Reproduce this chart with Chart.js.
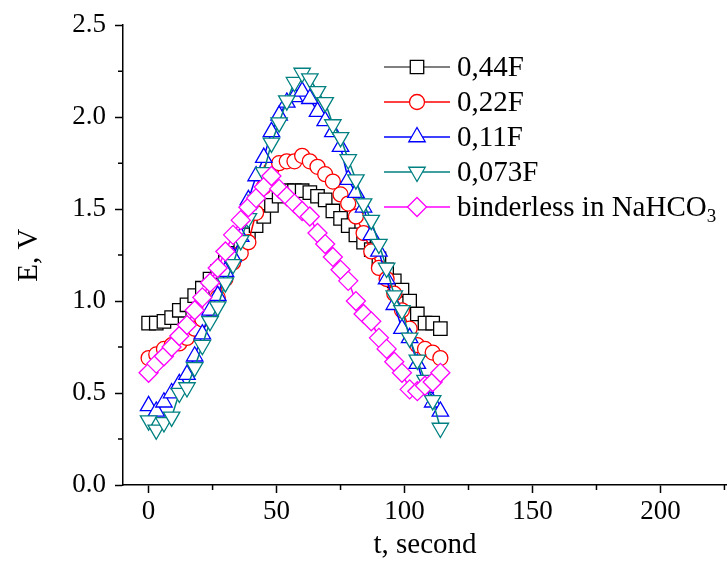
<!DOCTYPE html>
<html>
<head>
<meta charset="utf-8">
<script src="https://cdn.jsdelivr.net/npm/chart.js@4.4.0/dist/chart.umd.min.js"></script>
<style>
  html, body { margin: 0; padding: 0; background: #fff; }
  canvas { display: block; }
</style>
</head>
<body>
<canvas id="c" width="727" height="563"></canvas>
<script>
// ---- data ------------------------------------------------------------------
const TIME = [0, 3, 6, 9, 12, 15, 18, 21, 24, 27, 30, 33, 36, 39, 42, 45, 48, 51, 54, 57,
              60, 63, 66, 69, 72, 75, 78, 81, 84, 87, 90, 93, 96, 99, 102, 105, 108, 111, 114];

const E_044F = [0.88, 0.88, 0.89, 0.91, 0.95, 0.98, 1.03, 1.07, 1.12, 1.16, 1.21, 1.26, 1.31, 1.36,
                1.41, 1.46, 1.52, 1.57, 1.60, 1.60, 1.60, 1.59, 1.57, 1.55, 1.49, 1.45, 1.41, 1.36,
                1.32, 1.28, 1.23, 1.17, 1.11, 1.06, 1.00, 0.93, 0.88, 0.88, 0.85];
const E_022F = [0.69, 0.71, 0.74, 0.76, 0.77, 0.80, 0.85, 0.90, 0.96, 1.02, 1.12, 1.21, 1.26, 1.32,
                1.48, 1.62, 1.72, 1.75, 1.76, 1.76, 1.79, 1.76, 1.73, 1.69, 1.65, 1.58, 1.53, 1.46,
                1.37, 1.27, 1.18, 1.12, 1.04, 0.95, 0.85, 0.76, 0.74, 0.72, 0.69];
const E_011F = [0.43, 0.40, 0.45, 0.50, 0.55, 0.60, 0.70, 0.82, 0.95, 1.03, 1.16, 1.24, 1.35, 1.55,
                1.68, 1.78, 1.92, 2.01, 2.08, 2.11, 2.14, 2.10, 2.03, 1.98, 1.92, 1.84, 1.66, 1.59,
                1.51, 1.36, 1.27, 1.12, 0.98, 0.85, 0.80, 0.66, 0.53, 0.45, 0.40];
const E_0073F = [0.35, 0.30, 0.34, 0.37, 0.50, 0.53, 0.64, 0.76, 0.89, 0.97, 1.10, 1.20, 1.33, 1.45,
                 1.55, 1.70, 1.86, 1.97, 2.09, 2.19, 2.24, 2.21, 2.14, 2.08, 1.96, 1.89, 1.77, 1.66,
                 1.53, 1.44, 1.31, 1.18, 1.03, 0.95, 0.80, 0.68, 0.57, 0.46, 0.31];
const E_BINDERLESS = [0.61, 0.66, 0.70, 0.75, 0.81, 0.87, 0.95, 1.02, 1.10, 1.18, 1.27, 1.36, 1.44, 1.51,
                      1.56, 1.62, 1.68, 1.61, 1.57, 1.53, 1.49, 1.46, 1.37, 1.31, 1.24, 1.17, 1.11, 1.00,
                      0.93, 0.89, 0.80, 0.74, 0.67, 0.61, 0.52, 0.51, 0.54, 0.56, 0.61];

const LABELS = ['0,44F', '0,22F', '0,11F', '0,073F', 'binderless in NaHCO'];
const X_TICKS = [0, 50, 100, 150, 200];
const Y_TICKS = [0, 0.5, 1, 1.5, 2, 2.5];
const X_MINOR = [25, 75, 125, 175, 225];
const Y_MINOR = [0.25, 0.75, 1.25, 1.75, 2.25];

const SERIF = '"Liberation Serif", "Times New Roman", serif';

// ---- styles per series -----------------------------------------------------
const STYLES = [
  { color: '#000000', style: 'rect',     radius: 9.5, rot: 0 },
  { color: '#ff0000', style: 'circle',   radius: 7.5, rot: 0 },
  { color: '#0000ff', style: 'triangle', radius: 9.5, rot: 0 },
  { color: '#008080', style: 'triangle', radius: 9.5, rot: 180 },
  { color: '#ff00ff', style: 'rectRot',  radius: 9.5, rot: 0 },
];
const SERIES = [E_044F, E_022F, E_011F, E_0073F, E_BINDERLESS];

function ds(i) {
  const s = STYLES[i];
  return {
    label: LABELS[i],
    data: TIME.map((t, k) => ({ x: t, y: SERIES[i][k] })),
    borderColor: s.color, borderWidth: 1.5,
    pointStyle: s.style, pointRadius: s.radius, pointRotation: s.rot,
    pointBorderColor: s.color, pointBackgroundColor: '#ffffff', pointBorderWidth: 1.3,
    tension: 0, fill: false,
    order: SERIES.length - i,   // later series drawn on top
  };
}

// ---- minor ticks -----------------------------------------------------------
const minorTicks = {
  id: 'minorTicks',
  afterDraw(chart) {
    const { ctx, scales: { x, y }, chartArea } = chart;
    ctx.save();
    ctx.strokeStyle = '#000';
    ctx.lineWidth = 1.5;
    ctx.beginPath();
    for (const v of X_MINOR) {
      const px = x.getPixelForValue(v);
      ctx.moveTo(px, chartArea.bottom);
      ctx.lineTo(px, chartArea.bottom + 5);
    }
    for (const v of Y_MINOR) {
      const py = y.getPixelForValue(v);
      ctx.moveTo(chartArea.left, py);
      ctx.lineTo(chartArea.left - 5, py);
    }
    ctx.stroke();
    ctx.restore();
  }
};

// ---- legend (inside plot, top right) ---------------------------------------
const insideLegend = {
  id: 'insideLegend',
  afterDatasetsDraw(chart) {
    const ctx = chart.ctx;
    const x0 = 384, x1 = 450, xm = 417, xt = 457;
    ctx.save();
    STYLES.forEach((s, i) => {
      const yc = 67 + i * 35;
      ctx.strokeStyle = s.color;
      ctx.lineWidth = i === 0 ? 1 : 1.5;
      ctx.beginPath();
      ctx.moveTo(x0, yc); ctx.lineTo(x1, yc);
      ctx.stroke();
      ctx.fillStyle = '#fff';
      ctx.lineWidth = 1.3;
      Chart.helpers.drawPoint(ctx, { pointStyle: s.style, radius: s.radius, rotation: s.rot, borderWidth: 1.3 }, xm, yc);
      ctx.fillStyle = '#000';
      ctx.font = '29px ' + SERIF;
      ctx.textBaseline = 'alphabetic';
      ctx.textAlign = 'left';
      ctx.fillText(LABELS[i], xt, yc + 9);
      if (i === 4) {
        const w = ctx.measureText(LABELS[i]).width;
        ctx.font = '19px ' + SERIF;
        ctx.fillText('3', xt + w, yc + 15);
      }
    });
    ctx.restore();
  }
};

new Chart(document.getElementById('c'), {
  type: 'line',
  data: { datasets: SERIES.map((_, i) => ds(i)) },
  options: {
    animation: false,
    responsive: false,
    layout: { autoPadding: false, padding: { top: 20, right: 0, left: 0, bottom: 0 } },
    plugins: { legend: { display: false }, tooltip: { enabled: false } },
    scales: {
      x: {
        type: 'linear', min: -10, max: 226,
        afterBuildTicks: s => { s.ticks = X_TICKS.map(v => ({ value: v })); },
        afterFit: s => { s.height = 78; },
        grid: { drawOnChartArea: false, drawTicks: true, tickLength: 8, tickWidth: 1.5, tickColor: '#000' },
        border: { display: true, color: '#000', width: 1.5 },
        ticks: { color: '#000', font: { size: 27, family: SERIF }, padding: 3, maxRotation: 0 },
        title: { display: true, text: 't, second', color: '#000', font: { size: 29, family: SERIF },
                 padding: { top: 0, bottom: 0 } },
      },
      y: {
        type: 'linear', min: 0, max: 2.5,
        afterBuildTicks: s => { s.ticks = Y_TICKS.map(v => ({ value: v })); },
        afterFit: s => { s.width = 123; },
        grid: { drawOnChartArea: false, drawTicks: true, tickLength: 8, tickWidth: 1.5, tickColor: '#000' },
        border: { display: true, color: '#000', width: 1.5 },
        ticks: { color: '#000', font: { size: 27, family: SERIF }, padding: 9,
                 callback: v => v.toFixed(1) },
        title: { display: true, text: 'E, V', color: '#000', font: { size: 29, family: SERIF },
                 padding: { top: 12, bottom: 0 } },
      },
    },
  },
  plugins: [minorTicks, insideLegend],
});
</script>
</body>
</html>
